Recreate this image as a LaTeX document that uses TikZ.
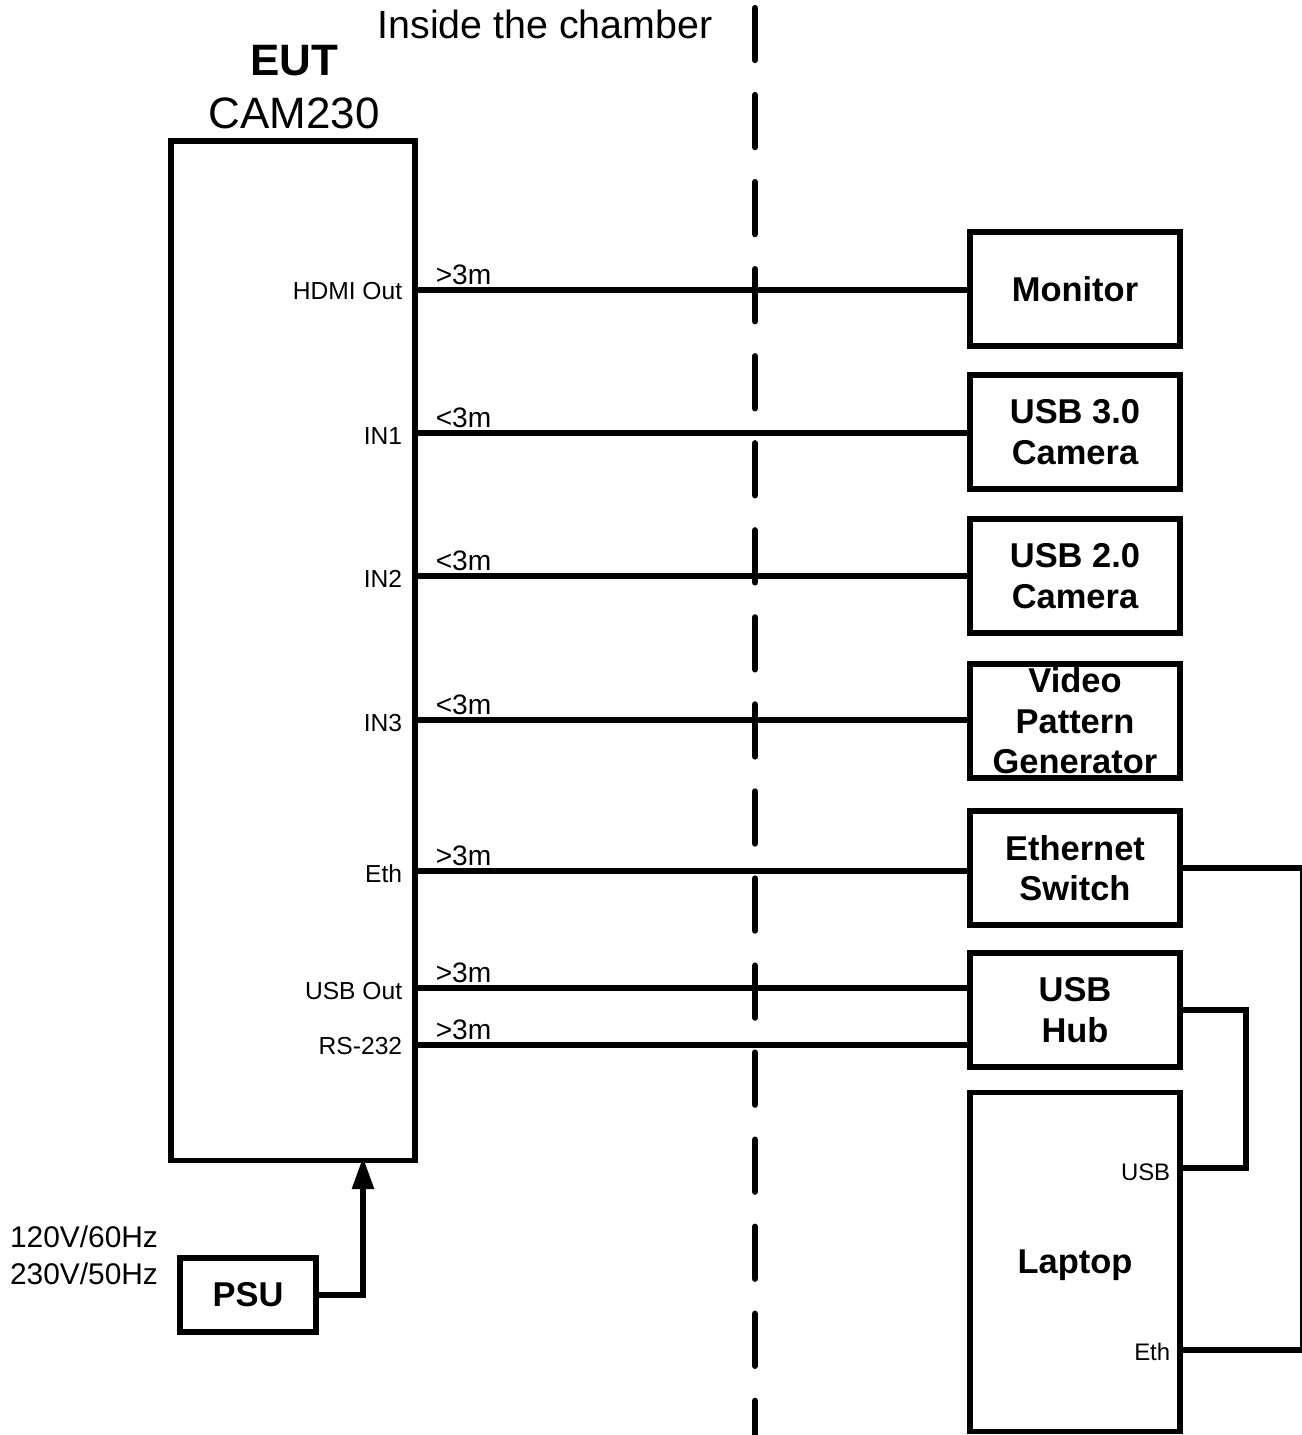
\documentclass[tikz,border=0pt]{standalone}
\usepackage{fontspec}
\setmainfont{Liberation Sans}
\usetikzlibrary{arrows.meta}

\begin{document}
\begin{tikzpicture}[x=0.01cm, y=-0.01cm, line width=1.6pt,
          device/.style={draw, minimum width=2.1cm, minimum height=1.14cm,
            align=center, inner sep=0pt,
            font=\fontsize{9.8}{11.5}\selectfont\bfseries},
          port/.style={anchor=east, inner sep=0pt, font=\fontsize{7}{8}\selectfont},
          cablelen/.style={anchor=south west, inner sep=0pt,
            font=\fontsize{8}{9}\selectfont},
        ]
          \useasboundingbox (0,0) rectangle (1302,1435);
          % chamber border
          \coordinate (wall1) at (755,8);
          \coordinate (wall2) at (755,1445);
          \draw[line width=1.8pt, line cap=round, dash pattern=on 0.52cm off 0.35cm] (wall1) -- (wall2);
          \node[font=\fontsize{11.2}{13}\selectfont] (inside) at (545,24) {Inside the chamber};
          % EUT
          \node[draw, anchor=north west, minimum width=2.44cm, minimum height=10.19cm] (eut) at (168,138) {};
          \node[font=\fontsize{12.5}{14}\selectfont\bfseries] (euttitle) at (294,61) {EUT};
          \node[font=\fontsize{12.5}{14}\selectfont] (eutname) at (294,113) {CAM230};
          \coordinate (hdmi)   at (412,290);
          \coordinate (in1)    at (412,433);
          \coordinate (in2)    at (412,576);
          \coordinate (in3)    at (412,720);
          \coordinate (eth)    at (412,871);
          \coordinate (usbout) at (412,988);
          \coordinate (rs232)  at (412,1045);
          \node[port] at (405,291)  {HDMI Out};
          \node[port] at (405,436)  {IN1};
          \node[port] at (405,579)  {IN2};
          \node[port] at (405,723)  {IN3};
          \node[port] at (405,874)  {Eth};
          \node[port] at (405,991)  {USB Out};
          \node[port] at (405,1046) {RS-232};
          % auxiliary equipment
          \node[device] (monitor) at (1075,289)  {Monitor};
          \node[device] (cam3)    at (1075,432)  {USB 3.0\\Camera};
          \node[device] (cam2)    at (1075,576)  {USB 2.0\\Camera};
          \node[device] (vpg)     at (1075,721)  {};
          \node[align=center, inner sep=0pt, font=\fontsize{9.8}{11.5}\selectfont\bfseries]
            (vpglabel) at (vpg) {Video\\Pattern\\Generator};
          \node[device] (ethsw)   at (1075,868)  {Ethernet\\Switch};
          \node[device] (hub)     at (1075,1010) {USB\\Hub};
          \node[device, minimum height=3.39cm, text depth=0pt] (laptop) at (1075,1262) {Laptop};
          \coordinate (lapusb) at (1180,1168);
          \coordinate (lapeth) at (1180,1350);
          \node[port, font=\fontsize{6.8}{8}\selectfont] at (1173,1172) {USB};
          \node[port, font=\fontsize{6.8}{8}\selectfont] at (1173,1352) {Eth};
          % cables
          \draw (hdmi)   -- (hdmi -| monitor.west);
          \draw (in1)    -- (in1 -| cam3.west);
          \draw (in2)    -- (in2 -| cam2.west);
          \draw (in3)    -- (in3 -| vpg.west);
          \draw (eth)    -- (eth -| ethsw.west);
          \draw (usbout) -- (usbout -| hub.west);
          \draw (rs232)  -- (rs232 -| hub.west);
          \node[cablelen] at (433,288)  {>3m};
          \node[cablelen] at (433,431)  {<3m};
          \node[cablelen] at (433,574)  {<3m};
          \node[cablelen] at (433,718)  {<3m};
          \node[cablelen] at (433,869)  {>3m};
          \node[cablelen] at (433,986)  {>3m};
          \node[cablelen] at (433,1043) {>3m};
          \draw (hub.east)   -- ++(63,0)  |- (lapusb);
          \draw (ethsw.east) -- ++(120,0) |- (lapeth);
          % power
          \node[device, minimum width=1.36cm, minimum height=0.74cm] (psu) at (248,1295) {PSU};
          \coordinate (pwr) at (363,1157);
          \draw[-{Triangle[length=0.32cm, width=0.21cm]}] (psu.east) -| (pwr);
          \node[align=center, inner sep=0pt, font=\fontsize{8.5}{10.5}\selectfont] (mains) at (84,1255) {120V/60Hz\\230V/50Hz};
        \end{tikzpicture}
\end{document}
